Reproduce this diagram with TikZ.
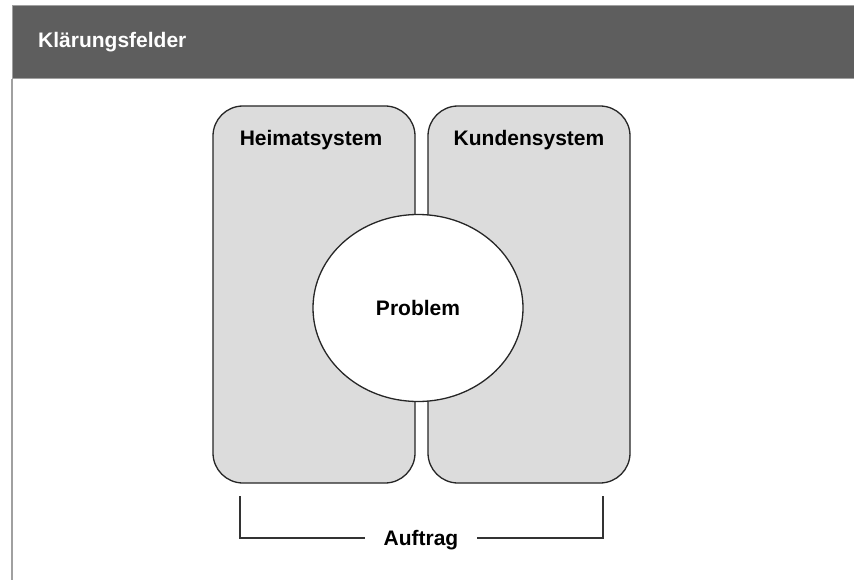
\documentclass[tikz,border=0pt]{standalone}
\usepackage{fontspec}
\setmainfont{Liberation Sans}
\usetikzlibrary{shapes.geometric}
\definecolor{headgray}{HTML}{5E5E5E}
\definecolor{boxgray}{HTML}{DCDCDC}
\definecolor{framegray}{HTML}{A0A0A0}

\begin{document}
\begin{tikzpicture}[x=1pt,y=-1pt,
    sysbox/.style={draw=black!85,line width=1.3pt,fill=boxgray,rounded corners=30pt,
      minimum width=202pt,minimum height=377pt,inner sep=0pt},
    lbl/.style={font=\fontsize{21}{25}\selectfont\bfseries,inner sep=0pt,text depth=0pt},
    problemcirc/.style={ellipse,draw=black!85,line width=1.3pt,fill=white,
      minimum width=210pt,minimum height=187pt,inner sep=0pt},
    bracket/.style={draw=black!80,line width=1.3pt}]
  \useasboundingbox (0,0) rectangle (854,580);
  \fill[white] (0,0) rectangle (854,580);
  % header bar
  \filldraw[fill=headgray,draw=framegray,line width=1pt] (12,6) rectangle (860,79);
  \node[lbl,text=white,anchor=west] (title) at (38,40) {Klärungsfelder};
  \draw[framegray,line width=1.5pt] (12,79) -- (12,580);
  % the two systems
  \node[sysbox] (heim) at (314,294.5) {};
  \node[sysbox] (kunde) at (529,294.5) {};
  \node[lbl] (heimlbl) at (311,138) {Heimatsystem};
  \node[lbl] (kundelbl) at (529,138) {Kundensystem};
  \node[problemcirc,font=\fontsize{21}{25}\selectfont\bfseries] (problem) at (418,308) {Problem};
  % bracket below
  \node[lbl,inner xsep=18pt] (auftrag) at (421,538) {Auftrag};
  \coordinate (bl) at (240,496);
  \coordinate (br) at (603,496);
  \draw[bracket] (bl) |- (auftrag.west);
  \draw[bracket] (br) |- (auftrag.east);
\end{tikzpicture}
\end{document}
